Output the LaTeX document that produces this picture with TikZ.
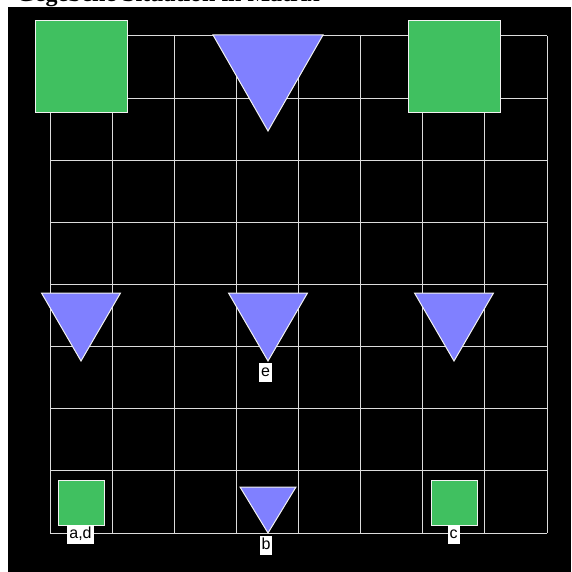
\documentclass[tikz,border=0pt]{standalone}
\usepackage{fontspec}
\setmainfont{Liberation Serif}
\newfontfamily\labfont{Liberation Sans}
\definecolor{sqgreen}{RGB}{64,192,96}
\definecolor{trblue}{RGB}{128,128,255}
\definecolor{gridgrey}{RGB}{220,220,220}
\begin{document}
\begin{tikzpicture}[x=1pt,y=-1pt,
  gridline/.style={draw=gridgrey,line width=1pt},
  sq/.style={fill=sqgreen,draw=white!90!gray,line width=1pt},
  tri/.style={fill=trblue,draw=white!90!gray,line width=1pt,line join=miter},
  lab/.style={fill=white,inner sep=2pt,font=\labfont\fontsize{16}{16}\selectfont,text height=11.5pt,text depth=3.5pt,anchor=north}]
\useasboundingbox (0,0) rectangle (571,572);
\fill[white] (0,0) rectangle (571,572);
\node[anchor=base west,inner sep=0pt,font=\bfseries\fontsize{24}{24}\selectfont] (title) at (16,2) {Gegebene Situation in Matrix};
\fill[black] (8,7) rectangle (571,572);
% grid
\foreach \i in {0,...,8}{
  \draw[gridline] ({50+\i*62.125},36) -- ({50+\i*62.125},533);
  \draw[gridline] (50,{36+\i*62.125}) -- (547,{36+\i*62.125});
}
% big squares
\filldraw[sq] (35,21) rectangle (127,113);
\filldraw[sq] (408,21) rectangle (500,113);
% big triangle
\filldraw[tri] (213,35) -- (323,35) -- (268,131) -- cycle;
% middle triangles
\foreach \c in {81,268,454}{
  \filldraw[tri] ({\c-39.5},293) -- ({\c+39.5},293) -- (\c,361) -- cycle;
}
% bottom small squares
\filldraw[sq] (58,480) rectangle (104,525);
\filldraw[sq] (431,480) rectangle (477,525);
% bottom small triangle
\filldraw[tri] (240,487) -- (296,487) -- (268,533) -- cycle;
% labels
\node[lab] (lad) at (80.5,525) {a,d};
\node[lab] (le) at (265.5,362.5) {e};
\node[lab] (lb) at (266,536) {b};
\node[lab] (lc) at (453.5,525) {c};
\end{tikzpicture}
\end{document}
